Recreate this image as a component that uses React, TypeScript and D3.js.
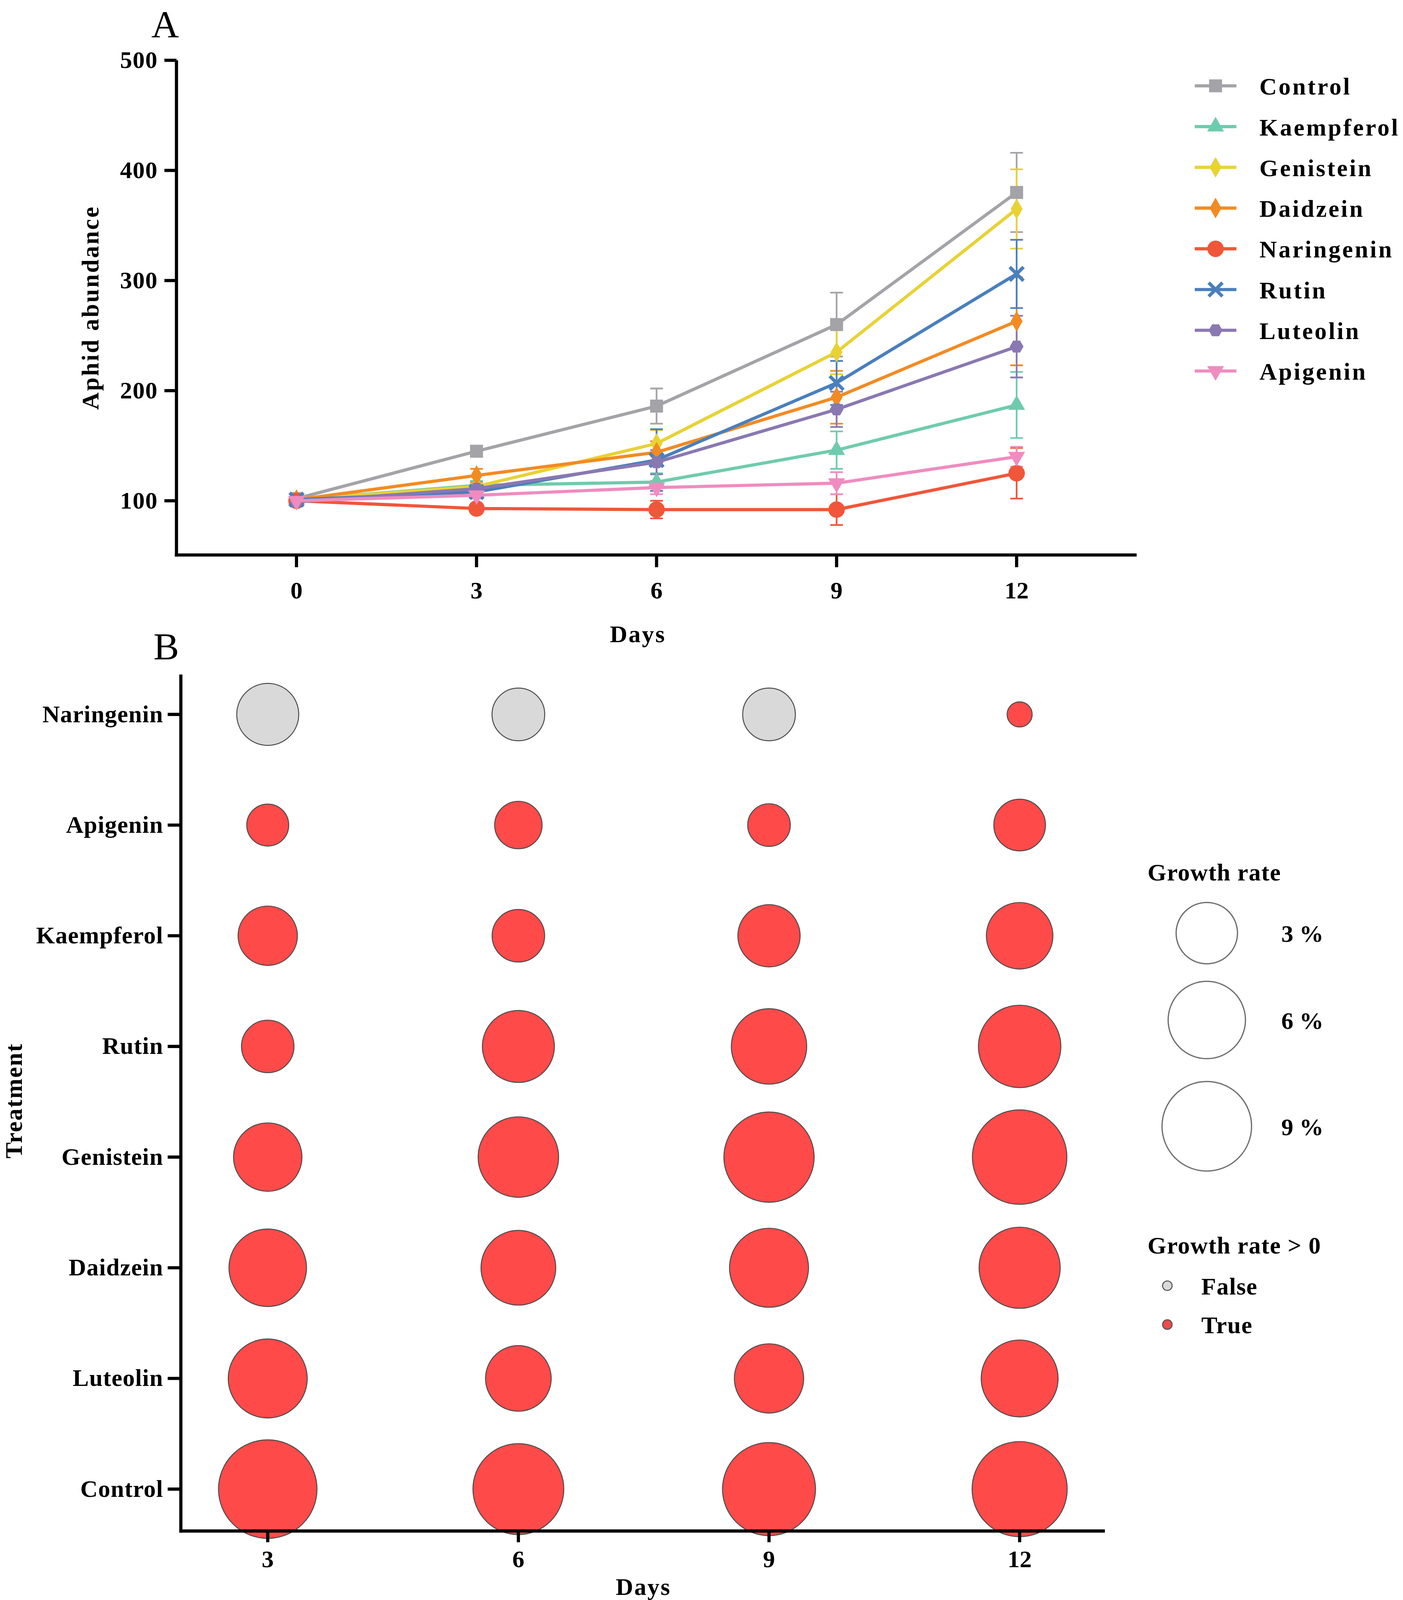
import * as d3 from 'd3';

// ---- panel A data (aphid abundance, mean +/- error) ----
const days = [0, 3, 6, 9, 12];
const seriesNames = ['Control', 'Kaempferol', 'Genistein', 'Daidzein', 'Naringenin', 'Rutin', 'Luteolin', 'Apigenin'];
const seriesColors = ['#a3a3a8', '#6fcbad', '#e8d234', '#f28b22', '#f0563a', '#4a7fbd', '#8a78b2', '#ef8cbf'];
const seriesMarkers = ['square', 'triangle', 'diamond', 'diamond', 'circle', 'x', 'hexagon', 'triangleDown'];

const controlMean = [102, 145, 186, 260, 380];
const kaempferolMean = [101, 114, 117, 146, 187];
const genisteinMean = [101, 113, 152, 235, 365];
const daidzeinMean = [101, 123, 144, 194, 263];
const naringeninMean = [100, 93, 92, 92, 125];
const rutinMean = [101, 108, 137, 207, 306];
const luteolinMean = [99, 111, 135, 183, 240];
const apigeninMean = [100, 105, 112, 116, 140];

const controlErr = [2, 4, 16, 29, 36];
const kaempferolErr = [2, 4, 8, 17, 30];
const genisteinErr = [2, 4, 12, 20, 36];
const daidzeinErr = [2, 6, 10, 24, 40];
const naringeninErr = [2, 3, 8, 14, 23];
const rutinErr = [2, 4, 28, 20, 31];
const luteolinErr = [2, 4, 11, 16, 28];
const apigeninErr = [2, 3, 6, 10, 9];

const yTicksA = [100, 200, 300, 400, 500];

// ---- panel B data (growth rate %, per treatment x day) ----
const treatments = ['Naringenin', 'Apigenin', 'Kaempferol', 'Rutin', 'Genistein', 'Daidzein', 'Luteolin', 'Control'];
const bubbleDays = [3, 6, 9, 12];
const growthNaringenin = [-3.1, -1.8, -1.8, 0.01];
const growthApigenin = [0.74, 1.22, 0.79, 1.68];
const growthKaempferol = [2.69, 1.78, 3.14, 3.86];
const growthRutin = [1.78, 4.89, 5.59, 7.18];
const growthGenistein = [4.2, 6.72, 9.19, 10.38];
const growthDaidzein = [6.05, 5.45, 6.38, 6.87];
const growthLuteolin = [6.38, 3.71, 4.36, 5.91];
const growthControl = [11.58, 9.36, 9.96, 10.57];
const sizeLegend = [3, 6, 9];

const meansA = [controlMean, kaempferolMean, genisteinMean, daidzeinMean, naringeninMean, rutinMean, luteolinMean, apigeninMean];
const errsA = [controlErr, kaempferolErr, genisteinErr, daidzeinErr, naringeninErr, rutinErr, luteolinErr, apigeninErr];
const growthB = [growthNaringenin, growthApigenin, growthKaempferol, growthRutin, growthGenistein, growthDaidzein, growthLuteolin, growthControl];

const FONT = '"Liberation Serif", "Times New Roman", serif';

// layout is written in a 1280 x 1565.5 reference frame and mapped to the real viewport
const REF_W = 1280;
const REF_H = 1565.5;

interface Frame { px: (u: number) => number; py: (u: number) => number; k: number; f: number }

const hexagon = {
  draw(ctx: any, size: number) {
    const r = Math.sqrt(size / 2.598);
    for (let i = 0; i < 6; i++) {
      const a = (Math.PI / 3) * i;
      const x = r * Math.cos(a), y = r * Math.sin(a);
      if (i === 0) ctx.moveTo(x, y); else ctx.lineTo(x, y);
    }
    ctx.closePath();
  },
};

function Marker({ kind, x, y, color, k }: { kind: string; x: number; y: number; color: string; k: number }) {
  if (kind === 'x') {
    const s = 6.5 * k;
    return (
      <g transform={`translate(${x},${y})`} stroke={color} strokeWidth={3.2 * k}>
        <line x1={-s} y1={-s} x2={s} y2={s} />
        <line x1={-s} y1={s} x2={s} y2={-s} />
      </g>
    );
  }
  let type: any = d3.symbolCircle;
  let size = 150;
  let rot = 0;
  if (kind === 'square') { type = d3.symbolSquare; size = 150; }
  if (kind === 'triangle') { type = d3.symbolTriangle; size = 110; }
  if (kind === 'triangleDown') { type = d3.symbolTriangle; size = 110; rot = 180; }
  if (kind === 'diamond') { type = d3.symbolDiamond; size = 110; }
  if (kind === 'circle') { type = d3.symbolCircle; size = 190; }
  if (kind === 'hexagon') { type = hexagon; size = 110; }
  const d = d3.symbol().type(type).size(size * k * k)() as string;
  return <path d={d} transform={`translate(${x},${y}) rotate(${rot})`} fill={color} />;
}

function PanelA({ fr }: { fr: Frame }) {
  const { px, py, k, f } = fr;
  const x = d3.scaleLinear().domain([-2, 14]).range([px(161), px(1037)]);
  const y = d3.scaleLinear().domain([50.8, 500]).range([py(543), py(59)]);
  const line = d3.line<number>().x((_, i) => x(days[i])).y((v) => y(v));
  const legendY = d3.scalePoint<string>().domain(seriesNames).range([py(84), py(363)]);
  const fs = 22 * f;
  const axisW = 3 * k;

  return (
    <g fontFamily={FONT}>
      <text x={px(138)} y={Math.max(py(33), 34 * f)} fontSize={35 * f}>A</text>
      {/* error bars under the lines */}
      {seriesNames.map((name, s) => (
        <g key={name}>
          {days.map((dd, i) => {
            const m = meansA[s][i], e = errsA[s][i];
            const cx = x(dd);
            const cap = 6 * k;
            return (
              <g key={i} stroke={seriesColors[s]} strokeWidth={1.6 * k}>
                <line x1={cx} x2={cx} y1={y(m - e)} y2={y(m + e)} />
                <line x1={cx - cap} x2={cx + cap} y1={y(m - e)} y2={y(m - e)} />
                <line x1={cx - cap} x2={cx + cap} y1={y(m + e)} y2={y(m + e)} />
              </g>
            );
          })}
        </g>
      ))}
      {seriesNames.map((name, s) => (
        <g key={name}>
          <path d={line(meansA[s]) as string} fill="none" stroke={seriesColors[s]} strokeWidth={3 * k} />
          {days.map((dd, i) => (
            <Marker key={i} kind={seriesMarkers[s]} x={x(dd)} y={y(meansA[s][i])} color={seriesColors[s]} k={k} />
          ))}
        </g>
      ))}
      {/* axes */}
      <line x1={px(161)} x2={px(161)} y1={py(59)} y2={py(543) + axisW / 2} stroke="#000" strokeWidth={axisW} />
      <line x1={px(161) - axisW / 2} x2={px(1037)} y1={py(543)} y2={py(543)} stroke="#000" strokeWidth={axisW} />
      {yTicksA.map((t) => (
        <g key={t}>
          <line x1={px(150)} x2={px(161)} y1={y(t)} y2={y(t)} stroke="#000" strokeWidth={axisW} />
          <text x={px(144)} y={y(t) + 7 * f} textAnchor="end" fontSize={fs} fontWeight="bold" letterSpacing={0.5 * f}>{t}</text>
        </g>
      ))}
      {days.map((t) => (
        <g key={t}>
          <line x1={x(t)} x2={x(t)} y1={py(543)} y2={py(555)} stroke="#000" strokeWidth={axisW} />
          <text x={x(t)} y={py(578) + 7 * f} textAnchor="middle" fontSize={fs} fontWeight="bold">{t}</text>
        </g>
      ))}
      <text x={px(582)} y={py(621) + 7 * f} textAnchor="middle" fontSize={fs} fontWeight="bold" letterSpacing={1.2 * f}>Days</text>
      <text transform={`translate(${px(82) + 8 * f},${py(301)}) rotate(-90)`} textAnchor="middle" fontSize={fs} fontWeight="bold" letterSpacing={1.3 * f}>Aphid abundance</text>
      {/* legend */}
      {seriesNames.map((name, s) => {
        const ly = legendY(name) as number;
        return (
          <g key={name}>
            <line x1={px(1090)} x2={px(1128)} y1={ly} y2={ly} stroke={seriesColors[s]} strokeWidth={3 * k} />
            <Marker kind={seriesMarkers[s]} x={px(1109)} y={ly} color={seriesColors[s]} k={k} />
            <text x={px(1149)} y={ly + 8 * f} fontSize={fs} fontWeight="bold" letterSpacing={1.6 * f}>{name}</text>
          </g>
        );
      })}
    </g>
  );
}

function PanelB({ fr }: { fr: Frame }) {
  const { px, py, k, f } = fr;
  const x = d3.scaleLinear().domain([1.96, 13.02]).range([px(165), px(1008)]);
  const y = d3.scalePoint<string>().domain(treatments).range([py(699), py(1457)]);
  const r = d3.scaleSqrt().domain([0, 9]).range([10.8 * k, 42.3 * k]);
  const fs = 22 * f;
  const axisW = 3 * k;

  return (
    <g fontFamily={FONT}>
      <text x={px(140)} y={py(645)} fontSize={35 * f}>B</text>
      {treatments.map((t, ti) => (
        <g key={t}>
          {bubbleDays.map((dd, i) => {
            const v = growthB[ti][i];
            return (
              <circle key={i} cx={x(dd)} cy={y(t)} r={r(Math.abs(v))}
                fill={v > 0 ? '#ff4a4a' : '#d9d9d9'} stroke="#4a4a4a" strokeWidth={0.9 * k} />
            );
          })}
        </g>
      ))}
      <line x1={px(165)} x2={px(165)} y1={py(660)} y2={py(1498) + axisW / 2} stroke="#000" strokeWidth={axisW} />
      <line x1={px(165) - axisW / 2} x2={px(1008)} y1={py(1498)} y2={py(1498)} stroke="#000" strokeWidth={axisW} />
      {treatments.map((t) => (
        <g key={t}>
          <line x1={px(153)} x2={px(165)} y1={y(t)} y2={y(t)} stroke="#000" strokeWidth={axisW} />
          <text x={px(149)} y={(y(t) as number) + 7 * f} textAnchor="end" fontSize={fs} fontWeight="bold" letterSpacing={0.4 * f}>{t}</text>
        </g>
      ))}
      {bubbleDays.map((t) => (
        <g key={t}>
          <line x1={x(t)} x2={x(t)} y1={py(1498)} y2={py(1509)} stroke="#000" strokeWidth={axisW} />
          <text x={x(t)} y={py(1526) + 7 * f} textAnchor="middle" fontSize={fs} fontWeight="bold">{t}</text>
        </g>
      ))}
      <text x={px(587)} y={py(1553) + 7 * f} textAnchor="middle" fontSize={fs} fontWeight="bold" letterSpacing={1 * f}>Days</text>
      <text transform={`translate(${px(12) + 8 * f},${py(1077)}) rotate(-90)`} textAnchor="middle" fontSize={fs} fontWeight="bold" letterSpacing={0.8 * f}>Treatment</text>

      {/* size legend */}
      <text x={px(1047)} y={py(853) + 8 * f} fontSize={fs} fontWeight="bold" letterSpacing={0.5 * f}>Growth rate</text>
      {sizeLegend.map((v, i) => {
        const cy = py([913, 998, 1102][i]);
        return (
          <g key={v}>
            <circle cx={px(1101)} cy={cy} r={r(v)} fill="#fff" stroke="#707070" strokeWidth={1.2 * k} />
            <text x={px(1169)} y={cy + 8 * f} fontSize={fs} fontWeight="bold">{`${v} %`}</text>
          </g>
        );
      })}
      <text x={px(1047)} y={py(1218) + 8 * f} fontSize={fs} fontWeight="bold" letterSpacing={0.5 * f}>{'Growth rate > 0'}</text>
      <circle cx={px(1065)} cy={py(1258)} r={4.5 * k} fill="#d9d9d9" stroke="#555" strokeWidth={1 * k} />
      <text x={px(1096)} y={py(1258) + 8 * f} fontSize={fs} fontWeight="bold" letterSpacing={0.5 * f}>False</text>
      <circle cx={px(1065)} cy={py(1296)} r={4.5 * k} fill="#ee4a4a" stroke="#555" strokeWidth={1 * k} />
      <text x={px(1096)} y={py(1296) + 8 * f} fontSize={fs} fontWeight="bold" letterSpacing={0.5 * f}>True</text>
    </g>
  );
}

export default function App() {
  const W = document.documentElement.clientWidth || window.innerWidth || 3591;
  const H = window.innerHeight || document.documentElement.clientHeight || 4392;
  const kx = W / REF_W;
  const ky = H / REF_H;
  const fr: Frame = {
    px: (u: number) => u * kx,
    py: (u: number) => u * ky,
    k: Math.sqrt(kx * ky),
    f: kx,
  };
  return (
    <div style={{ position: 'fixed', left: 0, top: 0, width: W, height: H, overflow: 'hidden', background: '#fff' }}>
      <svg width={W} height={H} style={{ display: 'block' }}>
        <rect width={W} height={H} fill="#fff" />
        <PanelA fr={fr} />
        <PanelB fr={fr} />
      </svg>
    </div>
  );
}
